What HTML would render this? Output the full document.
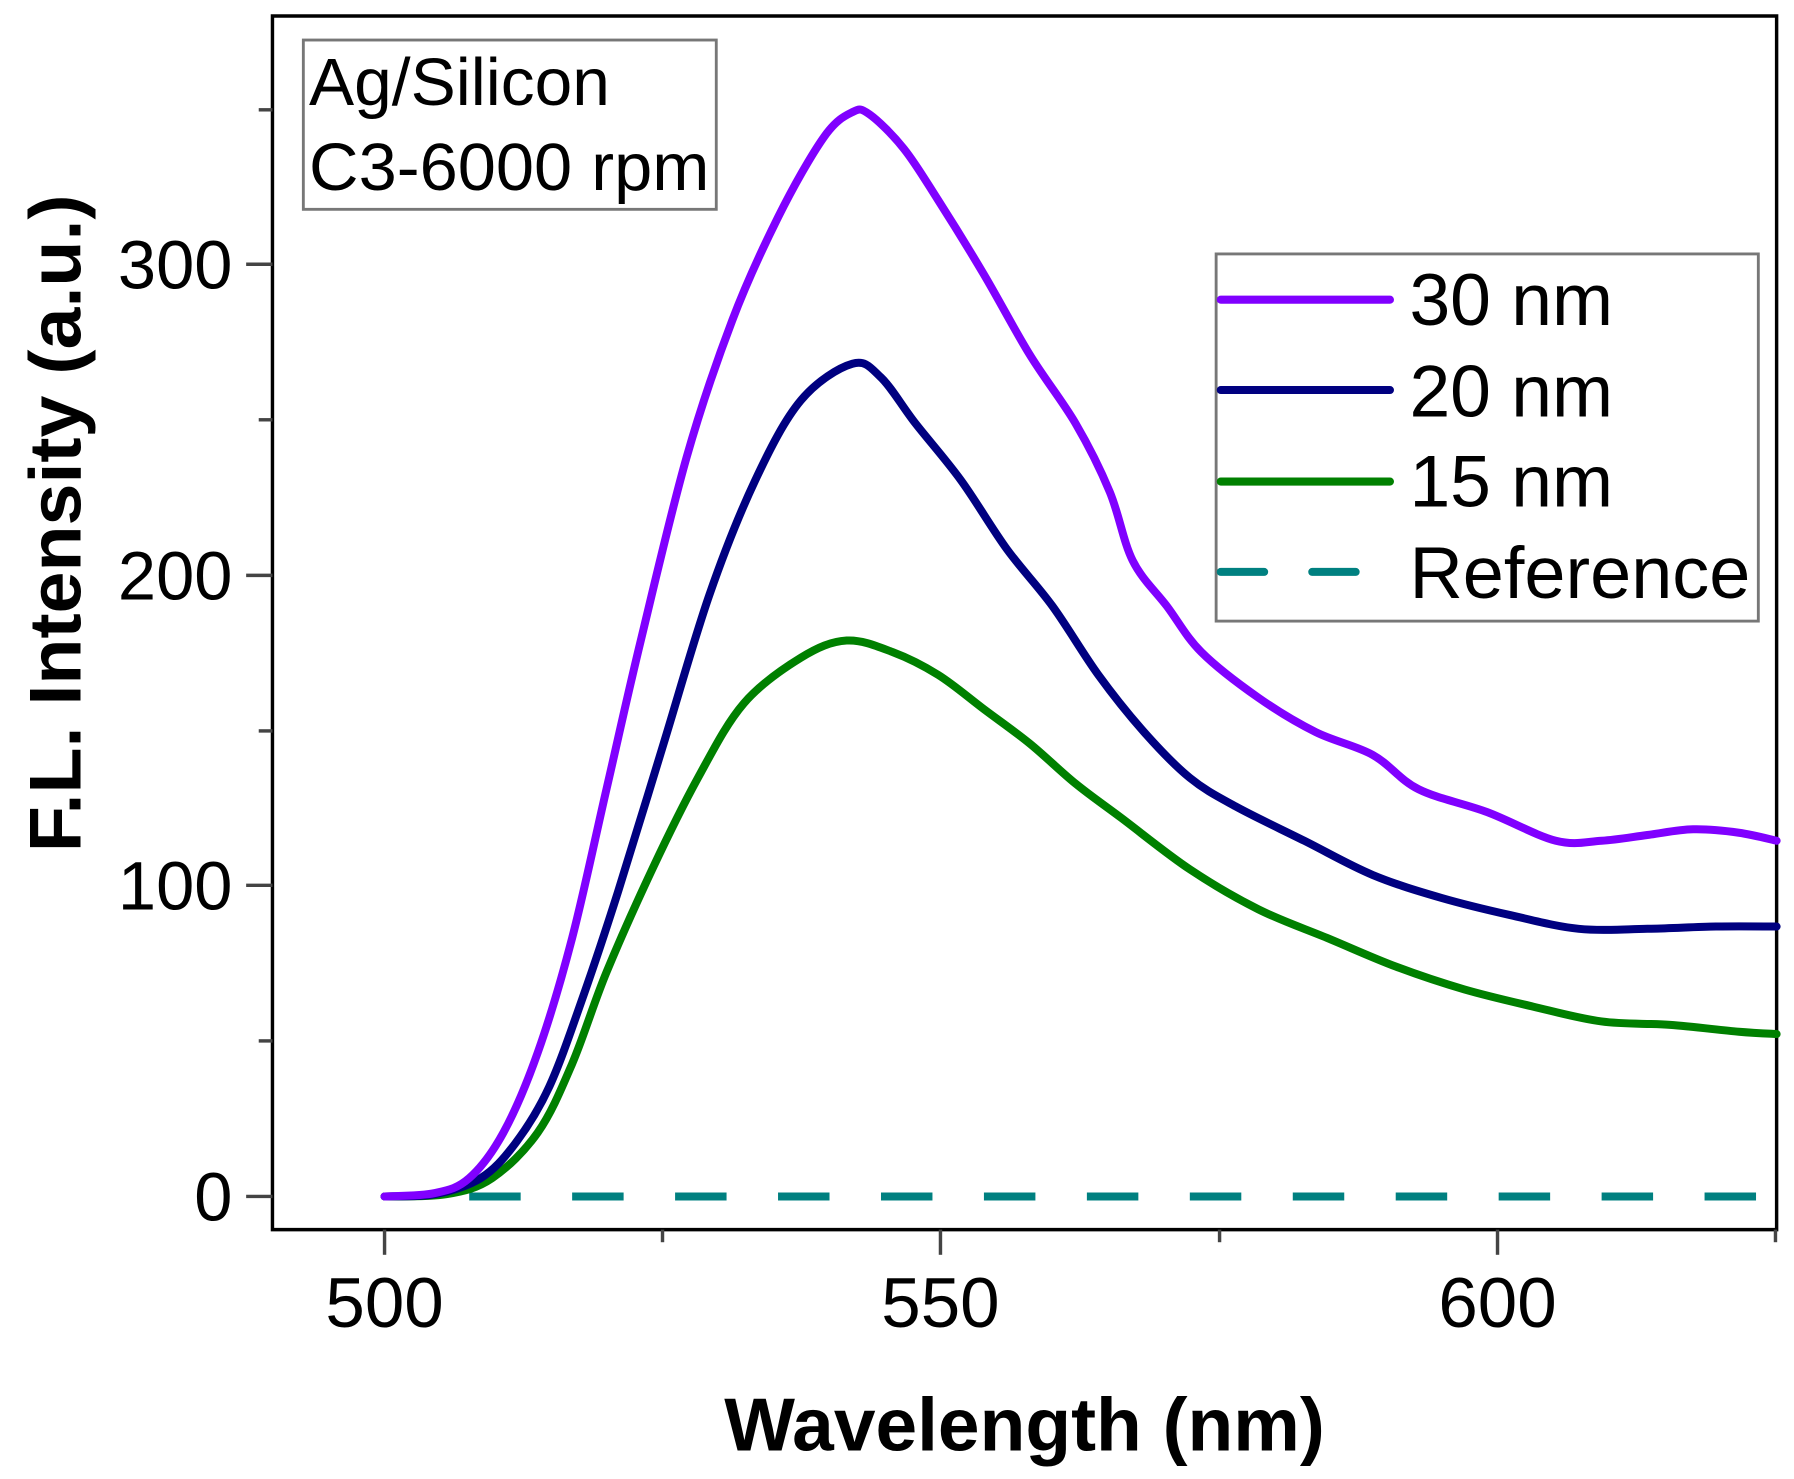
<!DOCTYPE html>
<html><head><meta charset="utf-8"><style>html,body{margin:0;padding:0;background:#fff}svg{display:block}</style></head>
<body>
<svg id="s" width="1794" height="1479" viewBox="0 0 1568 1293" xmlns="http://www.w3.org/2000/svg" font-family="Liberation Sans, Arial, sans-serif">
<rect width="1568" height="1293" fill="#fff"/>
<path d="M238,1075 V14 H1553 V1075 Z" fill="none" stroke="#000" stroke-width="3"/>
<g stroke="#444" stroke-width="3">
<line x1="215" y1="1046" x2="238" y2="1046"/><line x1="215" y1="774" x2="238" y2="774"/>
<line x1="215" y1="503" x2="238" y2="503"/><line x1="215" y1="231" x2="238" y2="231"/>
<line x1="226" y1="910" x2="238" y2="910"/><line x1="226" y1="639" x2="238" y2="639"/>
<line x1="226" y1="367" x2="238" y2="367"/><line x1="226" y1="96" x2="238" y2="96"/>
<line x1="336" y1="1075" x2="336" y2="1097"/><line x1="822" y1="1075" x2="822" y2="1097"/>
<line x1="1309" y1="1075" x2="1309" y2="1097"/>
<line x1="579" y1="1075" x2="579" y2="1086"/><line x1="1066" y1="1075" x2="1066" y2="1086"/>
<line x1="1552" y1="1075" x2="1552" y2="1086"/>
</g>
<g font-size="60" fill="#000" text-anchor="end">
<text x="203" y="1067">0</text><text x="203" y="795">100</text><text x="203" y="524">200</text><text x="203" y="252">300</text>
</g>
<g font-size="62" fill="#000" text-anchor="middle">
<text x="336" y="1160">500</text><text x="822" y="1160">550</text><text x="1309" y="1160">600</text>
</g>
<text x="633" y="1268" font-size="66" font-weight="bold" textLength="525" lengthAdjust="spacingAndGlyphs">Wavelength (nm)</text>
<text transform="translate(70,745) rotate(-90)" font-size="64" font-weight="bold" textLength="575" lengthAdjust="spacingAndGlyphs">F.L. Intensity (a.u.)</text>
<g fill="none" stroke-width="7" stroke-linejoin="round" stroke-linecap="round">
<path stroke="#008080" stroke-dasharray="45,45" stroke-linecap="butt" d="M410,1046 H1553"/>
<path id="c15" stroke="#008000"/>
<path id="c20" stroke="#000080"/>
<path id="c30" stroke="#8000ff"/>
</g>
<rect x="265" y="35" width="361" height="148" fill="#fff" stroke="#777" stroke-width="2.5"/>
<text x="270" y="92" font-size="58" textLength="263" lengthAdjust="spacingAndGlyphs">Ag/Silicon</text>
<text x="270" y="166" font-size="58" textLength="350" lengthAdjust="spacingAndGlyphs">C3-6000 rpm</text>
<rect x="1063" y="222" width="474" height="321" fill="#fff" stroke="#777" stroke-width="2.5"/>
<g stroke-width="7" stroke-linecap="round">
<line x1="1067" y1="262" x2="1215" y2="262" stroke="#8000ff"/>
<line x1="1067" y1="341" x2="1215" y2="341" stroke="#000080"/>
<line x1="1067" y1="421" x2="1215" y2="421" stroke="#008000"/>
<line x1="1067" y1="500" x2="1105" y2="500" stroke="#008080"/>
<line x1="1147" y1="500" x2="1185" y2="500" stroke="#008080"/>
</g>
<g font-size="64" fill="#000">
<text x="1232" y="284" textLength="178" lengthAdjust="spacingAndGlyphs">30 nm</text>
<text x="1232" y="364" textLength="178" lengthAdjust="spacingAndGlyphs">20 nm</text>
<text x="1232" y="443" textLength="178" lengthAdjust="spacingAndGlyphs">15 nm</text>
<text x="1232" y="523" textLength="298" lengthAdjust="spacingAndGlyphs">Reference</text>
</g>
</svg>
<script>
function smooth(p){var d="M"+p[0][0]+","+p[0][1];for(var i=0;i<p.length-1;i++){var a=p[i-1]||p[i],b=p[i],c=p[i+1],e=p[i+2]||c;
d+=" C"+(b[0]+(c[0]-a[0])/6).toFixed(1)+","+(b[1]+(c[1]-a[1])/6).toFixed(1)+" "+(c[0]-(e[0]-b[0])/6).toFixed(1)+","+(c[1]-(e[1]-b[1])/6).toFixed(1)+" "+c[0]+","+c[1];}return d;}
function P(s){return s.trim().split(/\s+/).map(function(t){return t.split(",").map(Number)});}
document.getElementById("c30").setAttribute("d",smooth(P("336,1046 380,1043 410,1030 440,990 470,920 500,820 530,690 560,560 600,400 640,280 680,190 720,120 745,98 760,100 790,130 820,175 860,240 900,310 940,370 970,430 990,490 1020,530 1050,570 1100,610 1150,640 1200,660 1240,690 1300,710 1360,735 1400,735 1440,730 1480,725 1520,728 1553,735")));
document.getElementById("c20").setAttribute("d",smooth(P("336,1046 380,1044 420,1030 450,1000 480,950 510,870 540,780 580,650 620,520 660,420 700,350 745,318 770,330 800,370 840,420 880,480 920,530 960,590 1000,640 1040,680 1080,705 1140,735 1200,765 1260,785 1320,800 1380,812 1440,812 1500,810 1553,810")));
document.getElementById("c15").setAttribute("d",smooth(P("336,1046 390,1044 430,1030 470,990 500,930 530,850 570,760 610,680 650,615 700,575 740,560 780,570 820,590 860,620 900,650 940,685 980,715 1040,760 1100,795 1160,820 1220,845 1280,865 1340,880 1400,893 1460,896 1520,902 1553,904")));
</script>
</body></html>
